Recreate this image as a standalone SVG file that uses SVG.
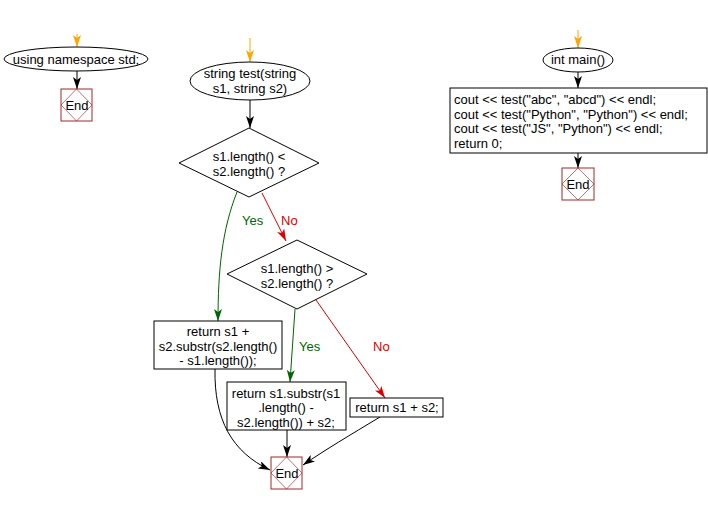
<svg xmlns="http://www.w3.org/2000/svg" width="708" height="505" viewBox="0 0 708 505">
<defs>
<marker id="ab" markerWidth="12" markerHeight="8" refX="12" refY="4" orient="auto" markerUnits="userSpaceOnUse"><path d="M0,0 L12,4 L0,8 L3,4 Z" fill="#000"/></marker>
<marker id="ao" markerWidth="12" markerHeight="8" refX="12" refY="4" orient="auto" markerUnits="userSpaceOnUse"><path d="M0,0 L12,4 L0,8 L3,4 Z" fill="#ffa500"/></marker>
<marker id="ag" markerWidth="12" markerHeight="8" refX="12" refY="4" orient="auto" markerUnits="userSpaceOnUse"><path d="M0,0 L12,4 L0,8 L3,4 Z" fill="#006400"/></marker>
<marker id="ar" markerWidth="12" markerHeight="8" refX="12" refY="4" orient="auto" markerUnits="userSpaceOnUse"><path d="M0,0 L12,4 L0,8 L3,4 Z" fill="#dd0000"/></marker>
</defs>
<style>
text{font-family:"Liberation Sans",Arial,sans-serif;font-size:13px;fill:#000}
.c{text-anchor:middle}
.s{fill:#fff;stroke:#000;stroke-width:1}
.e rect{fill:#fff;stroke:#a0282a;stroke-width:1}
.e path{fill:none;stroke:#b03030;stroke-width:0.7}
.k{fill:none;stroke:#000;stroke-width:1;marker-end:url(#ab)}
.o{fill:none;stroke:#ffa500;stroke-width:1;marker-end:url(#ao)}
.g{fill:none;stroke:#006400;stroke-width:1;marker-end:url(#ag)}
.r{fill:none;stroke:#dd0000;stroke-width:1;marker-end:url(#ar)}
.lg{fill:#006400}
.lr{fill:#dd0000}
</style>
<rect width="708" height="505" fill="#fff"/>
<g id="connectors">
<path class="o" d="M77,34 L77,47"/>
<path class="k" d="M77,71 L77,89"/>
<path class="o" d="M250,38 L250,62"/>
<path class="k" d="M250,100 L250,128"/>
<path class="g" d="M237,192 C222,230 218,270 218,321"/>
<path class="r" d="M262,193 L286,241"/>
<path class="g" d="M295,309 L290,382"/>
<path class="r" d="M316,300 L385,398"/>
<path class="k" d="M215,369 C214,420 232,452 270,470"/>
<path class="k" d="M287,430 L287,457"/>
<path class="k" d="M380,417 C350,435 325,450 303,465"/>
<path class="o" d="M578,30 L578,48"/>
<path class="k" d="M578,72 L578,88"/>
<path class="k" d="M578,153 L578,168"/>
<text class="lg" x="242" y="225">Yes</text>
<text class="lr" x="281" y="225">No</text>
<text class="lg" x="299" y="351">Yes</text>
<text class="lr" x="373" y="351">No</text>
</g>
<g id="n_using">
<ellipse class="s" cx="76" cy="59" rx="72" ry="12"/>
<text class="c" x="76" y="64">using namespace std;</text>
</g>
<g id="n_end1" class="e">
<rect x="61" y="89" width="31" height="32"/>
<path d="M76.5,89 L92,105 L76.5,121 L61,105 Z"/>
<text class="c" x="77" y="110">End</text>
</g>
<g id="n_test">
<ellipse class="s" cx="250" cy="81" rx="60" ry="19"/>
<text class="c" x="250" y="78">string test(string</text>
<text class="c" x="250" y="93">s1, string s2)</text>
</g>
<g id="n_d1">
<path class="s" d="M249,128 L319,163 L249,197 L179,163 Z"/>
<text class="c" x="249" y="161">s1.length() &lt;</text>
<text class="c" x="249" y="176">s2.length() ?</text>
</g>
<g id="n_d2">
<path class="s" d="M297,240 L367,274 L297,309 L227,274 Z"/>
<text class="c" x="297" y="273">s1.length() &gt;</text>
<text class="c" x="297" y="288">s2.length() ?</text>
</g>
<g id="n_ret1">
<rect class="s" x="154" y="321" width="128" height="48"/>
<text class="c" x="218" y="336">return s1 +</text>
<text class="c" x="218" y="351">s2.substr(s2.length()</text>
<text class="c" x="218" y="365">- s1.length());</text>
</g>
<g id="n_ret2">
<rect class="s" x="227" y="382" width="119" height="48"/>
<text class="c" x="286" y="398">return s1.substr(s1</text>
<text class="c" x="286" y="412">.length() -</text>
<text class="c" x="286" y="427">s2.length()) + s2;</text>
</g>
<g id="n_ret3">
<rect class="s" x="350" y="398" width="93" height="19"/>
<text class="c" x="397" y="412">return s1 + s2;</text>
</g>
<g id="n_end2" class="e">
<rect x="271" y="457" width="31" height="32"/>
<path d="M286.5,457 L302,473 L286.5,489 L271,473 Z"/>
<text class="c" x="287" y="478">End</text>
</g>
<g id="n_main">
<ellipse class="s" cx="578" cy="60" rx="35" ry="12"/>
<text class="c" x="578" y="64">int main()</text>
</g>
<g id="n_body">
<rect class="s" x="450" y="88" width="257" height="65"/>
<text x="454" y="104">cout &lt;&lt; test("abc", "abcd") &lt;&lt; endl;</text>
<text x="454" y="118.5">cout &lt;&lt; test("Python", "Python") &lt;&lt; endl;</text>
<text x="454" y="133">cout &lt;&lt; test("JS", "Python") &lt;&lt; endl;</text>
<text x="454" y="147.5">return 0;</text>
</g>
<g id="n_end3" class="e">
<rect x="562" y="168" width="32" height="32"/>
<path d="M578,168 L594,184 L578,200 L562,184 Z"/>
<text class="c" x="578" y="189">End</text>
</g>
</svg>
